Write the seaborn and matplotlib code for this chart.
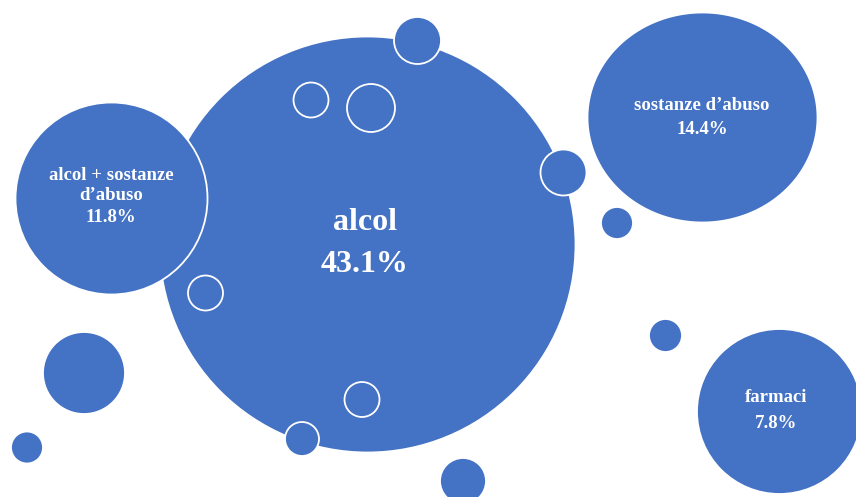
import numpy as np
import pandas as pd
import matplotlib
matplotlib.use("Agg")
import matplotlib.pyplot as plt
from matplotlib.path import Path
import seaborn as sns

# Categories and their shares (%)
categories = ["alcol", "alcol + sostanze\nd\u2019abuso", "sostanze d\u2019abuso", "farmaci"]
shares = [43.1, 11.8, 14.4, 7.8]

# Bubble layout in pixel space: centre x, centre y, half width, half height
bubble_x = [367.0, 111.5, 702.0, 779.5]
bubble_y = [244.0, 197.5, 117.0, 410.5]
bubble_rx = [208.0, 96.0, 115.0, 82.5]
bubble_ry = [208.0, 96.0, 105.0, 82.5]

# Text placement: x, y of category line(s), y of percentage, font size
text_x = [365, 111, 702, 776]
label_y = [222, 185.5, 105, 398]
value_y = [265, 218, 130, 423]
text_size = [23, 13.5, 13.5, 13.5]

# Decorative small bubbles: centre x, centre y, radius
deco_x = [417.5, 563.5, 617.0, 665.5, 84.0, 27.0, 205.5, 311.0, 371.0, 362.0, 302.0, 463.0]
deco_y = [40.5, 172.5, 223.0, 335.5, 373.0, 447.5, 293.0, 100.0, 108.0, 399.5, 439.0, 481.0]
deco_r = [23.5, 23.0, 16.0, 16.5, 41.0, 16.0, 17.5, 17.5, 24.0, 17.5, 17.0, 23.0]

BLUE = "#4472C4"
W, H, DPI = 856, 497, 100
PX2PT = 72.0 / DPI

sns.set_theme(style="white")
plt.rcParams["font.family"] = ["Liberation Serif", "DejaVu Serif"]

fig = plt.figure(figsize=(W / DPI, H / DPI), dpi=DPI)
ax = fig.add_axes([0, 0, 1, 1])
ax.set_xlim(0, W)
ax.set_ylim(H, 0)
ax.set_aspect("equal")
ax.axis("off")


def ellipse_marker(rx, ry):
    t = np.linspace(0, 2 * np.pi, 200)
    m = max(rx, ry)
    verts = np.column_stack([np.cos(t) * rx / m, np.sin(t) * ry / m])
    return Path(verts, closed=True)


main = pd.DataFrame({"x": bubble_x, "y": bubble_y, "rx": bubble_rx, "ry": bubble_ry})
deco = pd.DataFrame({"x": deco_x, "y": deco_y, "r": deco_r})

# Category bubbles, largest first so the next one overlaps it
for i in range(len(main)):
    row = main.iloc[[i]]
    rx, ry = bubble_rx[i], bubble_ry[i]
    marker = "o" if rx == ry else ellipse_marker(rx, ry)
    d = 2 * max(rx, ry) * PX2PT
    sns.scatterplot(data=row, x="x", y="y", ax=ax, marker=marker, s=d ** 2,
                    color=BLUE, edgecolor="white", linewidth=1.3, legend=False,
                    zorder=2 + i)

# Small decorative bubbles on top
sns.scatterplot(data=deco, x="x", y="y", ax=ax, marker="o",
                s=(2 * deco["r"].to_numpy() * PX2PT) ** 2,
                color=BLUE, edgecolor="white", linewidth=1.3, legend=False,
                zorder=10)

for cat, val, tx, ly, vy, fs in zip(categories, shares, text_x, label_y, value_y, text_size):
    ax.text(tx, ly, cat, ha="center", va="center", color="white",
            fontsize=fs, fontweight="bold", linespacing=1.2, zorder=20)
    ax.text(tx, vy, f"{val:.1f}%", ha="center", va="center", color="white",
            fontsize=fs, fontweight="bold", zorder=20)

fig.savefig("out.png", dpi=DPI, facecolor="white")
